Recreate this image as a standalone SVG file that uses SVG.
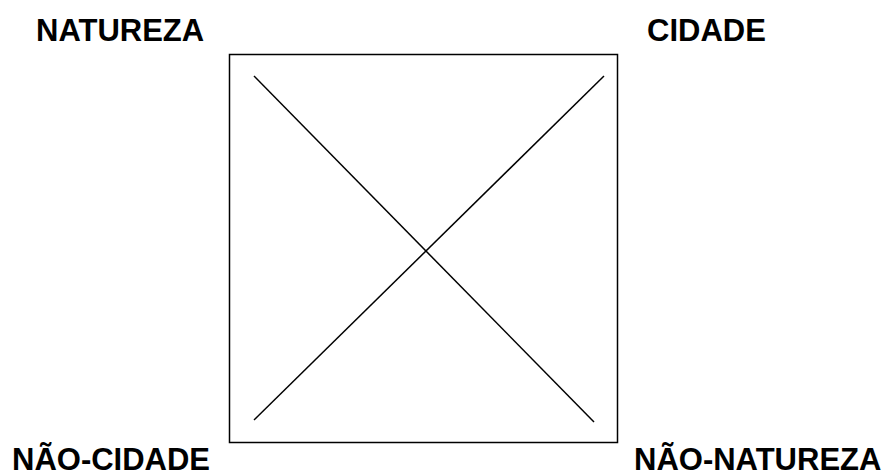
<svg xmlns="http://www.w3.org/2000/svg" width="892" height="473" viewBox="0 0 892 473">
<style>
.lbl{font-family:"Liberation Sans",Arial,sans-serif;font-weight:bold;font-size:31px;fill:#000}
.ln{stroke:#000;stroke-width:1.5;fill:none}
</style>
<rect width="892" height="473" fill="#fff"/>
<g id="square"><rect class="ln" x="229.5" y="54.5" width="388" height="388" stroke-width="2"/></g>
<g id="natureza"><text class="lbl" x="36" y="41">NATUREZA</text></g>
<g id="cidade"><text class="lbl" x="647" y="41">CIDADE</text></g>
<g id="nao-cidade"><text class="lbl" x="12" y="470">NÃO-CIDADE</text></g>
<g id="nao-natureza"><text class="lbl" x="634" y="470">NÃO-NATUREZA</text></g>
<g id="connectors">
<line class="ln" x1="254" y1="76" x2="594" y2="422"/>
<line class="ln" x1="604" y1="76" x2="254" y2="420"/>
</g>
</svg>
